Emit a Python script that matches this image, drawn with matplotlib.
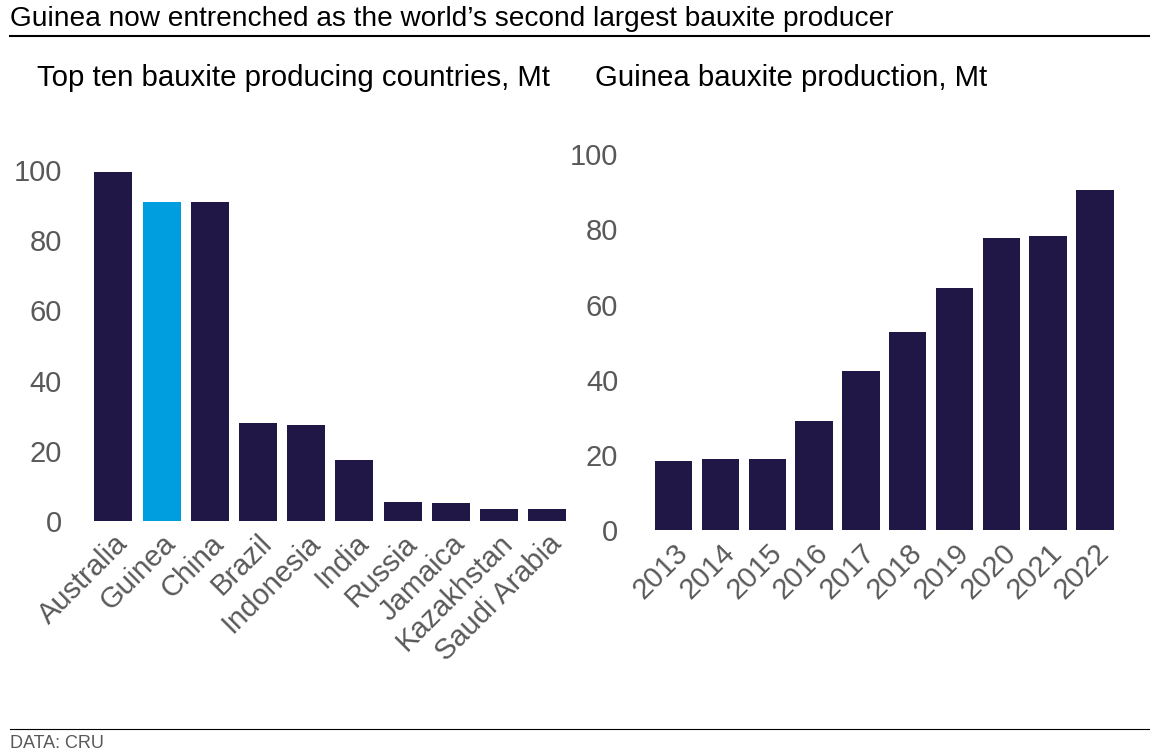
import matplotlib.pyplot as plt
from matplotlib.lines import Line2D

plt.rcParams['font.family'] = ['Liberation Sans', 'DejaVu Sans']

countries = ['Australia', 'Guinea', 'China', 'Brazil', 'Indonesia', 'India',
             'Russia', 'Jamaica', 'Kazakhstan', 'Saudi Arabia']
country_mt = [99.4, 90.9, 90.9, 28.0, 27.2, 17.4, 5.4, 5.1, 3.4, 3.4]

years = ['2013', '2014', '2015', '2016', '2017', '2018', '2019', '2020', '2021', '2022']
guinea_mt = [18.4, 18.9, 18.9, 29.0, 42.3, 52.7, 64.4, 77.7, 78.2, 90.4]

navy = '#201747'
blue = '#009ddf'
grey = '#595959'

fig = plt.figure(figsize=(11.59, 7.56), dpi=100)

ax1 = fig.add_axes([0.075, 0.311, 0.42, 0.464])
colors = [blue if c == 'Guinea' else navy for c in countries]
ax1.bar(countries, country_mt, color=colors, width=0.79)
ax1.set_ylim(0, 100)
ax1.set_xlim(-0.55, 9.55)

ax2 = fig.add_axes([0.555, 0.299, 0.41, 0.497])
ax2.bar(years, guinea_mt, color=navy, width=0.8)
ax2.set_ylim(0, 100)
ax2.set_xlim(-0.65, 9.5)

for ax in (ax1, ax2):
    for s in ax.spines.values():
        s.set_visible(False)
    ax.set_yticks(range(0, 101, 20))
    ax.tick_params(length=0, labelsize=21, colors=grey)
    ax.tick_params(axis='y', pad=18)
    ax.tick_params(axis='x', pad=6)
    plt.setp(ax.get_xticklabels(), rotation=45, ha='right', rotation_mode='anchor')

fig.text(0.009, 0.975, "Guinea now entrenched as the world\u2019s second largest bauxite producer",
         fontsize=20.2, va='center', color='black')
fig.add_artist(Line2D([0.009, 0.991], [0.952, 0.952], color='black', lw=1.5))
fig.text(0.032, 0.897, 'Top ten bauxite producing countries, Mt', fontsize=21.2, va='center')
fig.text(0.513, 0.897, 'Guinea bauxite production, Mt', fontsize=21.2, va='center')
fig.add_artist(Line2D([0.009, 0.991], [0.036, 0.036], color='black', lw=0.8))
fig.text(0.009, 0.017, 'DATA: CRU', fontsize=13, va='center', color=grey)

fig.savefig('out.png', dpi=100)
